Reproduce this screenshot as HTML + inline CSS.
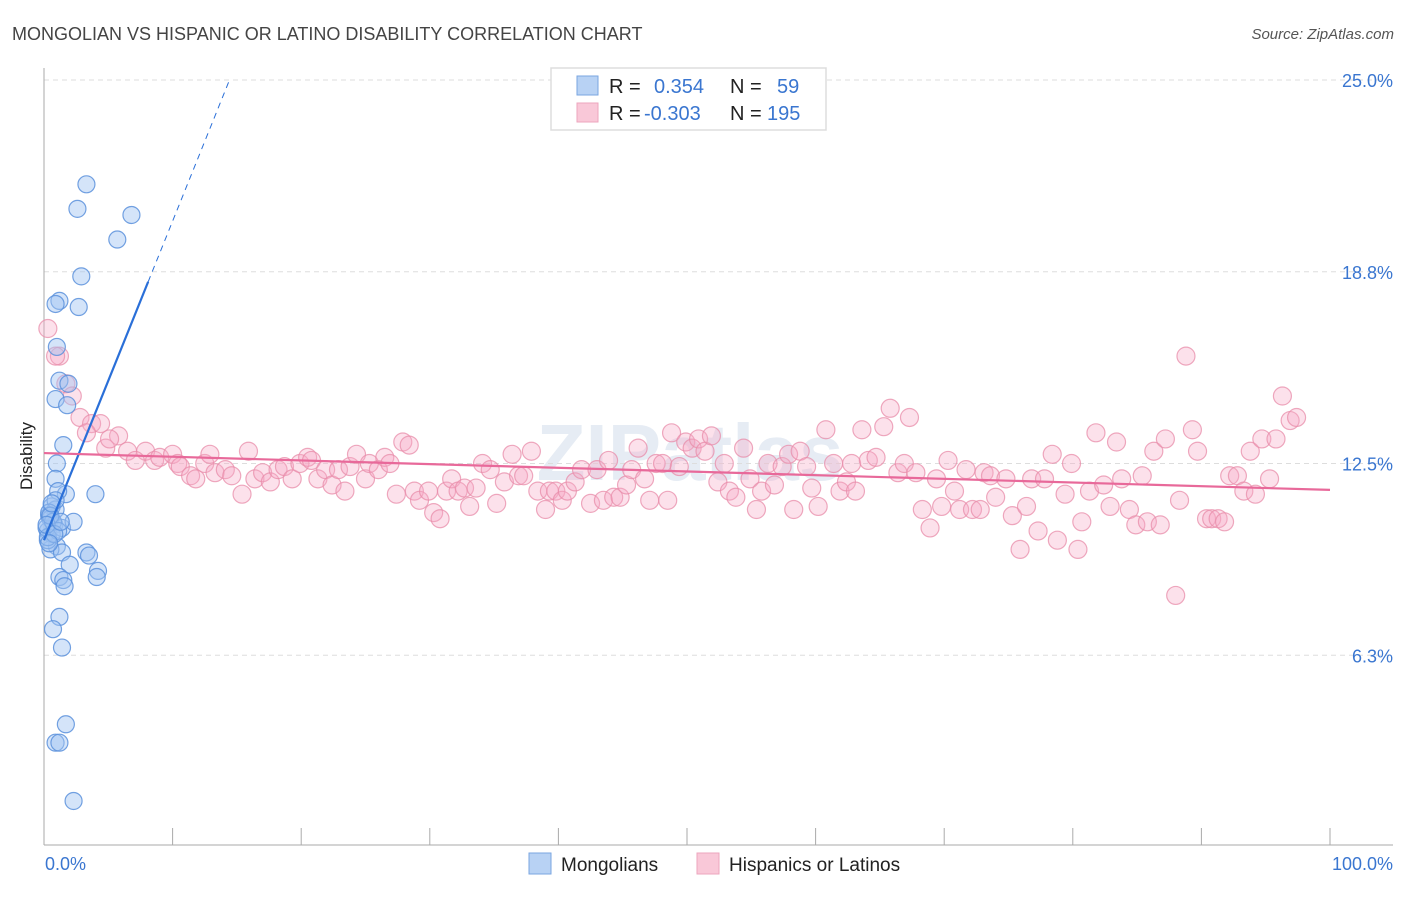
<!DOCTYPE html>
<html><head><meta charset="utf-8"><style>
body{margin:0;background:#fff;font-family:"Liberation Sans",sans-serif}
svg text{font-family:"Liberation Sans",sans-serif}
</style></head><body>
<svg id="chart" width="1406" height="892">
<text x="12" y="40" font-size="18" fill="#444">MONGOLIAN VS HISPANIC OR LATINO DISABILITY CORRELATION CHART</text>
<text x="1394" y="39" font-size="15" fill="#555" font-style="italic" text-anchor="end">Source: ZipAtlas.com</text>
<text x="32" y="456" font-size="17" fill="#222" text-anchor="middle" transform="rotate(-90 32 456)">Disability</text>
<text x="690" y="480" font-size="80" fill="#e6ecf4" text-anchor="middle" font-weight="bold">ZIPatlas</text>
<g id="grid"></g><g id="axes"></g><g id="pink"></g><g id="blue"></g><g id="trends"></g>
<g>
<rect x="551" y="68" width="275" height="62" fill="#fff" stroke="#ddd" stroke-width="1.5"/>
<rect x="577" y="76" width="21" height="19" fill="#b8d2f4" stroke="#7aa6e0"/>
<rect x="577" y="103" width="21" height="19" fill="#f9c8d8" stroke="#eda6be"/>
<text x="609" y="93" font-size="20" fill="#222">R =</text>
<text x="654" y="93" font-size="20" fill="#3a76d0">0.354</text>
<text x="730" y="93" font-size="20" fill="#222">N =</text>
<text x="777" y="93" font-size="20" fill="#3a76d0">59</text>
<text x="609" y="120" font-size="20" fill="#222">R =</text>
<text x="644" y="120" font-size="20" fill="#3a76d0">-0.303</text>
<text x="730" y="120" font-size="20" fill="#222">N =</text>
<text x="767" y="120" font-size="20" fill="#3a76d0">195</text>
</g>
<g>
<rect x="529" y="853" width="22" height="21" fill="#b8d2f4" stroke="#7aa6e0"/>
<text x="561" y="871" font-size="19" fill="#222">Mongolians</text>
<rect x="697" y="853" width="22" height="21" fill="#f9c8d8" stroke="#eda6be"/>
<text x="729" y="871" font-size="19" fill="#222">Hispanics or Latinos</text>
</g>
</svg>
<script>
const yTicks=[6.25,12.5,18.75,25];
const yTickLabels=["6.3%","12.5%","18.8%","25.0%"];
const xTickLabels=["0.0%","100.0%"];
const blueX=[3.3,2.6,6.8,5.7,2.9,1.2,0.9,2.7,1.0,1.2,1.9,0.9,1.8,1.5,1.0,0.9,1.7,4.0,1.1,0.6,0.9,0.4,0.5,0.8,0.3,0.6,1.4,2.3,1.0,0.5,1.4,3.3,3.5,2.0,4.2,4.1,1.2,1.5,1.6,1.2,0.7,1.4,1.7,0.9,1.2,2.3,0.3,0.9,0.2,0.4,0.7,0.3,1.1,0.5,0.2,0.8,0.4,0.6,1.3];
const blueY=[21.6,20.8,20.6,19.8,18.6,17.8,17.7,17.6,16.3,15.2,15.1,14.6,14.4,13.1,12.5,12.0,11.5,11.5,11.6,11.1,11.0,10.8,10.7,10.5,10.3,10.2,10.4,10.6,9.8,9.7,9.6,9.6,9.5,9.2,9.0,8.8,8.8,8.7,8.5,7.5,7.1,6.5,4.0,3.4,3.4,1.5,10.0,11.3,10.4,10.9,10.6,10.1,10.3,10.8,10.5,10.2,9.9,11.2,10.6];
const pinkData=[[0.3,16.9],[1.2,16.0],[1.7,15.1],[2.2,14.7],[0.9,16.0],[2.8,14.0],[3.7,13.8],[4.4,13.8],[3.3,13.5],[4.8,13.0],[5.8,13.4],[5.1,13.3],[6.5,12.9],[7.9,12.9],[7.1,12.6],[8.6,12.6],[9.0,12.7],[10.0,12.8],[10.4,12.5],[10.6,12.4],[11.4,12.1],[11.8,12.0],[12.5,12.5],[12.9,12.8],[13.3,12.2],[14.1,12.3],[14.6,12.1],[15.4,11.5],[15.9,12.9],[16.4,12.0],[17.0,12.2],[17.6,11.9],[18.2,12.3],[18.7,12.4],[19.3,12.0],[19.9,12.5],[20.5,12.7],[20.8,12.6],[21.3,12.0],[21.9,12.3],[22.4,11.8],[22.9,12.3],[23.4,11.6],[23.8,12.4],[24.3,12.8],[25.0,12.0],[25.3,12.5],[26.0,12.3],[26.5,12.7],[26.9,12.5],[27.4,11.5],[27.9,13.2],[28.4,13.1],[28.8,11.6],[29.2,11.3],[29.9,11.6],[30.3,10.9],[30.8,10.7],[31.3,11.6],[31.7,12.0],[32.2,11.6],[32.7,11.7],[33.1,11.1],[33.6,11.7],[34.1,12.5],[34.7,12.3],[35.2,11.2],[35.8,11.9],[36.4,12.8],[36.9,12.1],[37.3,12.1],[37.9,12.9],[38.4,11.6],[39.0,11.0],[39.3,11.6],[39.8,11.6],[40.3,11.3],[40.7,11.6],[41.3,11.9],[41.8,12.3],[42.5,11.2],[43.0,12.3],[43.5,11.3],[43.9,12.6],[44.3,11.4],[44.8,11.4],[45.3,11.8],[45.7,12.3],[46.2,13.0],[46.7,12.0],[47.1,11.3],[47.6,12.5],[48.1,12.5],[48.5,11.3],[48.8,13.5],[49.4,12.4],[49.9,13.2],[50.4,13.0],[50.9,13.3],[51.4,12.9],[51.9,13.4],[52.4,11.9],[52.9,12.5],[53.3,11.6],[53.8,11.4],[54.4,13.0],[54.9,12.0],[55.4,11.0],[55.8,11.6],[56.3,12.5],[56.8,11.8],[57.4,12.4],[57.9,12.8],[58.3,11.0],[58.8,12.9],[59.3,12.4],[59.7,11.7],[60.2,11.1],[60.8,13.6],[61.4,12.5],[61.9,11.6],[62.4,11.9],[62.8,12.5],[63.1,11.6],[63.6,13.6],[64.1,12.6],[64.7,12.7],[65.3,13.7],[65.8,14.3],[66.4,12.2],[66.9,12.5],[67.3,14.0],[67.8,12.2],[68.3,11.0],[68.9,10.4],[69.4,12.0],[69.8,11.1],[70.3,12.6],[70.8,11.6],[71.2,11.0],[71.7,12.3],[72.2,11.0],[72.8,11.0],[73.1,12.2],[73.6,12.1],[74.0,11.4],[74.8,12.0],[75.3,10.8],[75.9,9.7],[76.4,11.1],[76.8,12.0],[77.3,10.3],[77.8,12.0],[78.4,12.8],[78.8,10.0],[79.4,11.5],[79.9,12.5],[80.4,9.7],[80.7,10.6],[81.3,11.6],[81.8,13.5],[82.4,11.8],[82.9,11.1],[83.4,13.2],[83.8,12.0],[84.4,11.0],[84.9,10.5],[85.4,12.1],[85.8,10.6],[86.3,12.9],[86.8,10.5],[87.2,13.3],[88.0,8.2],[88.3,11.3],[88.8,16.0],[89.3,13.6],[89.7,12.9],[90.4,10.7],[90.8,10.7],[91.3,10.7],[91.8,10.6],[92.2,12.1],[92.8,12.1],[93.3,11.6],[93.8,12.9],[94.2,11.5],[94.7,13.3],[95.3,12.0],[95.8,13.3],[96.3,14.7],[96.9,13.9],[97.4,14.0]];
const blueTrend=[10.0,1.04];
const pinkTrend=[12.84,-0.012];
const X0=44,X1=1330,Y0=847,YT=80;
const xs=v=>X0+(X1-X0)*v/100;
const ys=v=>Y0-(Y0-YT)*v/25;
const NS="http://www.w3.org/2000/svg";
function mk(tag,attrs,parent){const e=document.createElementNS(NS,tag);for(const k in attrs)e.setAttribute(k,attrs[k]);parent.appendChild(e);return e;}
const grid=document.getElementById('grid'),axes=document.getElementById('axes');
yTicks.forEach((t,i)=>{
 const l=mk('line',{x1:X0,x2:1393,y1:ys(t),y2:ys(t),stroke:'#ddd','stroke-dasharray':'5,4'},grid);
 
 
 const tx=mk('text',{x:1393,y:ys(t)+7,'font-size':18,fill:'#3a76d0','text-anchor':'end'},grid);
 tx.textContent=yTickLabels[i];
 
 
});
const ya=mk('line',{x1:X0,x2:X0,y1:68,y2:845,stroke:'#aaa'},axes);


const xa=mk('line',{x1:X0,x2:1393,y1:845,y2:845,stroke:'#aaa'},axes);


for(let i=0;i<=10;i++){const t=mk('line',{x1:xs(i*10),x2:xs(i*10),y1:828,y2:845,stroke:'#aaa'},axes);
 
 }
const xl0=mk('text',{x:45,y:870,'font-size':18,fill:'#3a76d0'},axes);xl0.textContent=xTickLabels[0];


const xl1=mk('text',{x:1393,y:870,'font-size':18,fill:'#3a76d0','text-anchor':'end'},axes);xl1.textContent=xTickLabels[1];


const pg=document.getElementById('pink');
pinkData.forEach(d=>{const c=mk('circle',{cx:xs(d[0]),cy:ys(d[1]),r:9,fill:'rgba(246,170,198,0.35)',stroke:'rgba(232,140,170,0.75)','stroke-width':1.2},pg);
 
 });
const bg=document.getElementById('blue');
blueX.forEach((x,i)=>{const c=mk('circle',{cx:xs(x),cy:ys(blueY[i]),r:8.5,fill:'rgba(160,195,242,0.45)',stroke:'rgba(90,145,220,0.85)','stroke-width':1.2},bg);
 
 });
const tg=document.getElementById('trends');
const bl=mk('line',{x1:xs(0),y1:ys(blueTrend[0]),x2:xs(8.1),y2:ys(blueTrend[0]+blueTrend[1]*8.1),stroke:'#2a6fd8','stroke-width':2.2},tg);


const xe=(25-blueTrend[0])/blueTrend[1];
const bd=mk('line',{x1:xs(8.1),y1:ys(blueTrend[0]+blueTrend[1]*8.1),x2:xs(xe),y2:ys(25),stroke:'#2a6fd8','stroke-width':1,'stroke-dasharray':'6,5'},tg);


const pl=mk('line',{x1:xs(0),y1:ys(pinkTrend[0]),x2:xs(100),y2:ys(pinkTrend[0]+pinkTrend[1]*100),stroke:'#e8699a','stroke-width':2.2},tg);


</script>
</body></html>
